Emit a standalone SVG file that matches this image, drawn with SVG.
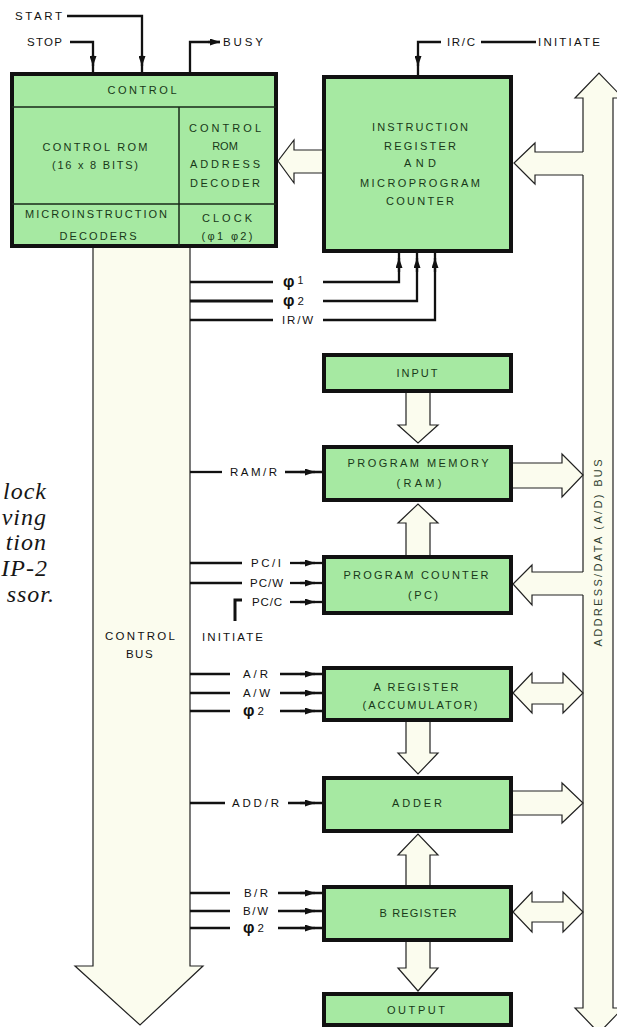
<svg xmlns="http://www.w3.org/2000/svg" width="617" height="1027" viewBox="0 0 617 1027">
<defs>
<marker id="ah" viewBox="0 0 10 7" markerWidth="10" markerHeight="7" refX="10" refY="3.5" orient="auto" markerUnits="userSpaceOnUse"><path d="M0,0 L10,3.5 L0,7 z" fill="#111"/></marker>
</defs>
<style>
.box{fill:#a6e9a2;stroke:#111;stroke-width:4}
.div{stroke:#1a2a1a;stroke-width:1.5;fill:none}
.bt{font-family:"Liberation Sans",Arial,sans-serif;font-size:11px;fill:#183818;text-anchor:middle}
.lbl{font-family:"Liberation Sans",Arial,sans-serif;font-size:11.5px;fill:#111}
.sig{stroke:#111;stroke-width:2.3;fill:none}
.arr{stroke:#111;stroke-width:2.3;fill:none;marker-end:url(#ah)}
.wa{fill:#fbfcee;stroke:#222;stroke-width:1.2}
.waf{fill:#fbfcee;stroke:none}
.wl{fill:none;stroke:#222;stroke-width:1.2}
.cap{font-family:"Liberation Serif","Times New Roman",serif;font-style:italic;font-size:24px;fill:#161616;text-anchor:end;letter-spacing:1px}
.phi{font-weight:bold;font-size:16px}
</style>
<rect width="617" height="1027" fill="#ffffff"/>

<g id="caption">
<text class="cap" x="47" y="499">lock</text>
<text class="cap" x="47" y="525">ving</text>
<text class="cap" x="47" y="550">tion</text>
<text class="cap" x="48" y="576">IP-2</text>
<text class="cap" x="55" y="602">ssor.</text>
</g>

<g id="buses">
<path id="control-bus" class="wa" d="M93,246 V966 H75 L140,1025 L203,966 H190 V246"/>
<path id="address-data-bus" class="wa" d="M583,98 H575 L599,73 L623,98 H613 V1008 H623 L599,1033 L575,1008 H583 Z"/>
<text class="bt" transform="translate(602,553) rotate(-90)" textLength="187" style="fill:#2f3f2f">ADDRESS/DATA (A/D) BUS</text>
<text class="lbl" x="140" y="640" text-anchor="middle" textLength="70">CONTROL</text>
<text class="lbl" x="140" y="658" text-anchor="middle" letter-spacing="1.5">BUS</text>
</g>

<g id="connectors">
<path class="wa" d="M323,150 H294 V140 L278,161 L294,183 V173 H323"/>
<path class="waf" d="M587,152 H535 V143 L514,163 L535,184 V175 H587 Z"/>
<path class="wl" d="M583,152 H535 V143 L514,163 L535,184 V175 H583"/>
<path class="wa" d="M406,392 V425 H398 L418,443 L438,425 H430 V392"/>
<path class="wa" d="M511,463 H562 V454 L583,475 L562,497 V488 H511"/>
<path class="wa" d="M406,556 V523 H398 L418,504 L438,523 H430 V556"/>
<path class="waf" d="M587,572 H532 V565 L513,584 L532,605 V595 H587 Z"/>
<path class="wl" d="M583,572 H532 V565 L513,584 L532,605 V595 H583"/>
<path class="wa" d="M513,693 L532,673 V683 H563 V673 L583,693 L563,713 V704 H532 V713 Z"/>
<path class="wa" d="M406,721 V753 H398 L418,774 L438,753 H430 V721"/>
<path class="wa" d="M511,791 H562 V783 L583,803 L562,823 V815 H511"/>
<path class="wa" d="M406,886 V855 H398 L418,834 L438,855 H430 V886"/>
<path class="wa" d="M513,912 L532,892 V902 H563 V892 L583,912 L563,932 V922 H532 V932 Z"/>
<path class="wa" d="M406,941 V968 H398 L418,991 L438,968 H430 V941"/>

<path class="sig" d="M67,16 H142 V72"/><path class="arr" d="M142,55 V66"/>
<path class="sig" d="M70,42 H93 V72"/><path class="arr" d="M93,55 V66"/>
<path class="sig" d="M190,72 V42 H220"/><path class="arr" d="M208,42 H220"/>
<path class="sig" d="M418,75 V42 H441"/><path class="arr" d="M418,55 V66"/>
<path class="sig" d="M481,42 H536"/>

<path class="sig" d="M190,282 H273"/><path class="sig" d="M323,282 H399 V253"/><path class="arr" d="M399,272 V258"/>
<path class="sig" d="M190,301 H273" style="stroke-width:3"/><path class="sig" d="M323,301 H417 V253"/><path class="arr" d="M417,272 V258"/>
<path class="sig" d="M190,320 H273"/><path class="sig" d="M323,320 H435 V253"/><path class="arr" d="M435,272 V258"/>

<path class="sig" d="M190,472 H222"/><path class="sig" d="M285,472 H322"/><path class="arr" d="M300,472 H315"/>

<path class="sig" d="M190,563 H242"/><path class="sig" d="M290,563 H322"/><path class="arr" d="M300,563 H315"/>
<path class="sig" d="M190,583 H242"/><path class="sig" d="M290,583 H322"/><path class="arr" d="M300,583 H315"/>
<path class="sig" d="M290,602 H322"/><path class="arr" d="M300,602 H315"/>
<path class="sig" d="M242,600 H235 V621" style="stroke-width:3"/>

<path class="sig" d="M190,674 H230"/><path class="sig" d="M280,674 H322"/><path class="arr" d="M300,674 H315"/>
<path class="sig" d="M190,693 H230"/><path class="sig" d="M280,693 H322"/><path class="arr" d="M300,693 H315"/>
<path class="sig" d="M190,711 H230"/><path class="sig" d="M280,711 H322"/><path class="arr" d="M300,711 H315"/>

<path class="sig" d="M190,803 H225"/><path class="sig" d="M288,803 H322"/><path class="arr" d="M300,803 H315"/>

<path class="sig" d="M190,893 H230"/><path class="sig" d="M278,893 H322"/><path class="arr" d="M300,893 H315"/>
<path class="sig" d="M190,911 H230"/><path class="sig" d="M278,911 H322"/><path class="arr" d="M300,911 H315"/>
<path class="sig" d="M190,928 H230"/><path class="sig" d="M278,928 H322"/><path class="arr" d="M300,928 H315"/>

<text class="lbl" x="15" y="20" textLength="47">START</text>
<text class="lbl" x="27" y="46" textLength="35">STOP</text>
<text class="lbl" x="223" y="46" textLength="40">BUSY</text>
<text class="lbl" x="447" y="46" textLength="28">IR/C</text>
<text class="lbl" x="538" y="46" textLength="62">INITIATE</text>
<text class="lbl" x="283" y="287"><tspan class="phi">φ</tspan><tspan dx="3" dy="-3" font-size="10.5">1</tspan></text>
<text class="lbl" x="283" y="306"><tspan class="phi">φ</tspan><tspan dx="3" dy="-1" font-size="11.5">2</tspan></text>
<text class="lbl" x="282" y="324" textLength="31">IR/W</text>
<text class="lbl" x="230" y="476" textLength="47">RAM/R</text>
<text class="lbl" x="251" y="567" textLength="30">PC/I</text>
<text class="lbl" x="250" y="587" textLength="33">PC/W</text>
<text class="lbl" x="252" y="606" textLength="30">PC/C</text>
<text class="lbl" x="202" y="641" textLength="61">INITIATE</text>
<text class="lbl" x="243" y="678" textLength="25">A/R</text>
<text class="lbl" x="243" y="697" textLength="27">A/W</text>
<text class="lbl" x="243" y="716"><tspan class="phi">φ</tspan><tspan dx="3" dy="-1" font-size="11.5">2</tspan></text>
<text class="lbl" x="232" y="807" textLength="47">ADD/R</text>
<text class="lbl" x="244" y="897" textLength="24">B/R</text>
<text class="lbl" x="243" y="915" textLength="25">B/W</text>
<text class="lbl" x="243" y="933"><tspan class="phi">φ</tspan><tspan dx="3" dy="-1" font-size="11.5">2</tspan></text>
</g>

<g id="control">
<rect class="box" x="12" y="74" width="264" height="172"/>
<path class="div" d="M12,107 H276 M179,107 V246 M12,204 H276"/>
<text class="bt" x="142" y="94" textLength="69">CONTROL</text>
<text class="bt" x="95" y="151" textLength="105">CONTROL ROM</text>
<text class="bt" x="95" y="169" textLength="86">(16 x 8 BITS)</text>
<text class="bt" x="225" y="132" textLength="72">CONTROL</text>
<text class="bt" x="225" y="150">ROM</text>
<text class="bt" x="225" y="168" textLength="70">ADDRESS</text>
<text class="bt" x="225" y="187" textLength="70">DECODER</text>
<text class="bt" x="96" y="218" textLength="142">MICROINSTRUCTION</text>
<text class="bt" x="98" y="240" textLength="77">DECODERS</text>
<text class="bt" x="227" y="222" textLength="50">CLOCK</text>
<text class="bt" x="227" y="240" textLength="51">(φ1 φ2)</text>
</g>

<g id="instruction-register">
<rect class="box" x="324" y="77" width="187" height="174"/>
<text class="bt" x="420" y="131" textLength="96">INSTRUCTION</text>
<text class="bt" x="420" y="150" textLength="72">REGISTER</text>
<text class="bt" x="420" y="167" textLength="32">AND</text>
<text class="bt" x="420" y="187" textLength="120">MICROPROGRAM</text>
<text class="bt" x="420" y="205" textLength="68">COUNTER</text>
</g>

<g id="input">
<rect class="box" x="324" y="355" width="187" height="36"/>
<text class="bt" x="417" y="377" textLength="41">INPUT</text>
</g>

<g id="program-memory">
<rect class="box" x="324" y="447" width="187" height="53"/>
<text class="bt" x="418" y="467" textLength="141">PROGRAM MEMORY</text>
<text class="bt" x="419" y="487" textLength="45">(RAM)</text>
</g>

<g id="program-counter">
<rect class="box" x="324" y="557" width="187" height="56"/>
<text class="bt" x="416" y="579" textLength="145">PROGRAM COUNTER</text>
<text class="bt" x="423" y="599" textLength="30">(PC)</text>
</g>

<g id="a-register">
<rect class="box" x="324" y="668" width="187" height="52"/>
<text class="bt" x="416" y="691" textLength="85">A REGISTER</text>
<text class="bt" x="420" y="709" textLength="115">(ACCUMULATOR)</text>
</g>

<g id="adder">
<rect class="box" x="324" y="778" width="187" height="53"/>
<text class="bt" x="417" y="807" textLength="50">ADDER</text>
</g>

<g id="b-register">
<rect class="box" x="324" y="887" width="187" height="53"/>
<text class="bt" x="418" y="917" textLength="77">B REGISTER</text>
</g>

<g id="output">
<rect class="box" x="324" y="994" width="187" height="31"/>
<text class="bt" x="416" y="1014" textLength="58">OUTPUT</text>
</g>
</svg>
